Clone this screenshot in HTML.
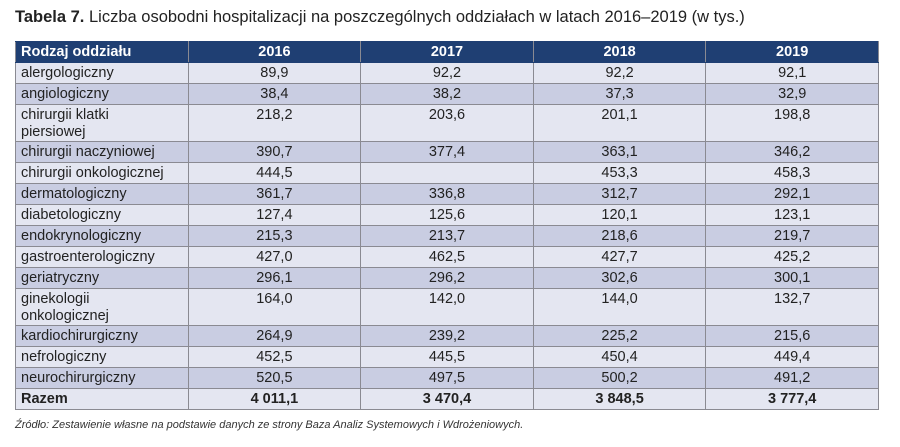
<!DOCTYPE html>
<html><head><meta charset="utf-8"><style>
body{margin:0;width:900px;height:447px;background:#fff;font-family:"Liberation Sans",sans-serif;position:relative;overflow:hidden}
#title{position:absolute;left:15px;top:8px;font-size:16.5px;color:#222;white-space:nowrap}
table{position:absolute;left:15px;top:41px;width:864px;border-collapse:collapse;table-layout:fixed;font-size:14.5px;color:#222}
td,th{border:1px solid #8a8a92;padding:2px 5px 0 5px;height:18px;line-height:17px;vertical-align:top}
th{background:#1f3f73;color:#fff;font-weight:bold;text-align:center;padding:0 5px;height:19px;line-height:20px;border-color:#1f3f73 #8a8a92}
th:first-child{text-align:left}
td+td{text-align:center}
tr.l td{background:#e4e6f1}
tr.d td{background:#c9cde2}
tr.t td{height:34px}
tr.b td{font-weight:bold}
#note{position:absolute;left:15px;top:419px;font-size:11px;font-style:italic;color:#333}
</style></head><body>
<div id="title"><b>Tabela 7.</b> Liczba osobodni hospitalizacji na poszczególnych oddziałach w latach 2016–2019 (w tys.)</div>
<table>
<tr><th>Rodzaj oddziału</th><th>2016</th><th>2017</th><th>2018</th><th>2019</th></tr>
<tr class="l"><td>alergologiczny</td><td>89,9</td><td>92,2</td><td>92,2</td><td>92,1</td></tr>
<tr class="d"><td>angiologiczny</td><td>38,4</td><td>38,2</td><td>37,3</td><td>32,9</td></tr>
<tr class="l t"><td>chirurgii klatki<br>piersiowej</td><td>218,2</td><td>203,6</td><td>201,1</td><td>198,8</td></tr>
<tr class="d"><td>chirurgii naczyniowej</td><td>390,7</td><td>377,4</td><td>363,1</td><td>346,2</td></tr>
<tr class="l"><td>chirurgii onkologicznej</td><td>444,5</td><td></td><td>453,3</td><td>458,3</td></tr>
<tr class="d"><td>dermatologiczny</td><td>361,7</td><td>336,8</td><td>312,7</td><td>292,1</td></tr>
<tr class="l"><td>diabetologiczny</td><td>127,4</td><td>125,6</td><td>120,1</td><td>123,1</td></tr>
<tr class="d"><td>endokrynologiczny</td><td>215,3</td><td>213,7</td><td>218,6</td><td>219,7</td></tr>
<tr class="l"><td>gastroenterologiczny</td><td>427,0</td><td>462,5</td><td>427,7</td><td>425,2</td></tr>
<tr class="d"><td>geriatryczny</td><td>296,1</td><td>296,2</td><td>302,6</td><td>300,1</td></tr>
<tr class="l t"><td>ginekologii<br>onkologicznej</td><td>164,0</td><td>142,0</td><td>144,0</td><td>132,7</td></tr>
<tr class="d"><td>kardiochirurgiczny</td><td>264,9</td><td>239,2</td><td>225,2</td><td>215,6</td></tr>
<tr class="l"><td>nefrologiczny</td><td>452,5</td><td>445,5</td><td>450,4</td><td>449,4</td></tr>
<tr class="d"><td>neurochirurgiczny</td><td>520,5</td><td>497,5</td><td>500,2</td><td>491,2</td></tr>
<tr class="l b"><td>Razem</td><td>4 011,1</td><td>3 470,4</td><td>3 848,5</td><td>3 777,4</td></tr>
</table>
<div id="note">Źródło: Zestawienie własne na podstawie danych ze strony Baza Analiz Systemowych i Wdrożeniowych.</div>
</body></html>
